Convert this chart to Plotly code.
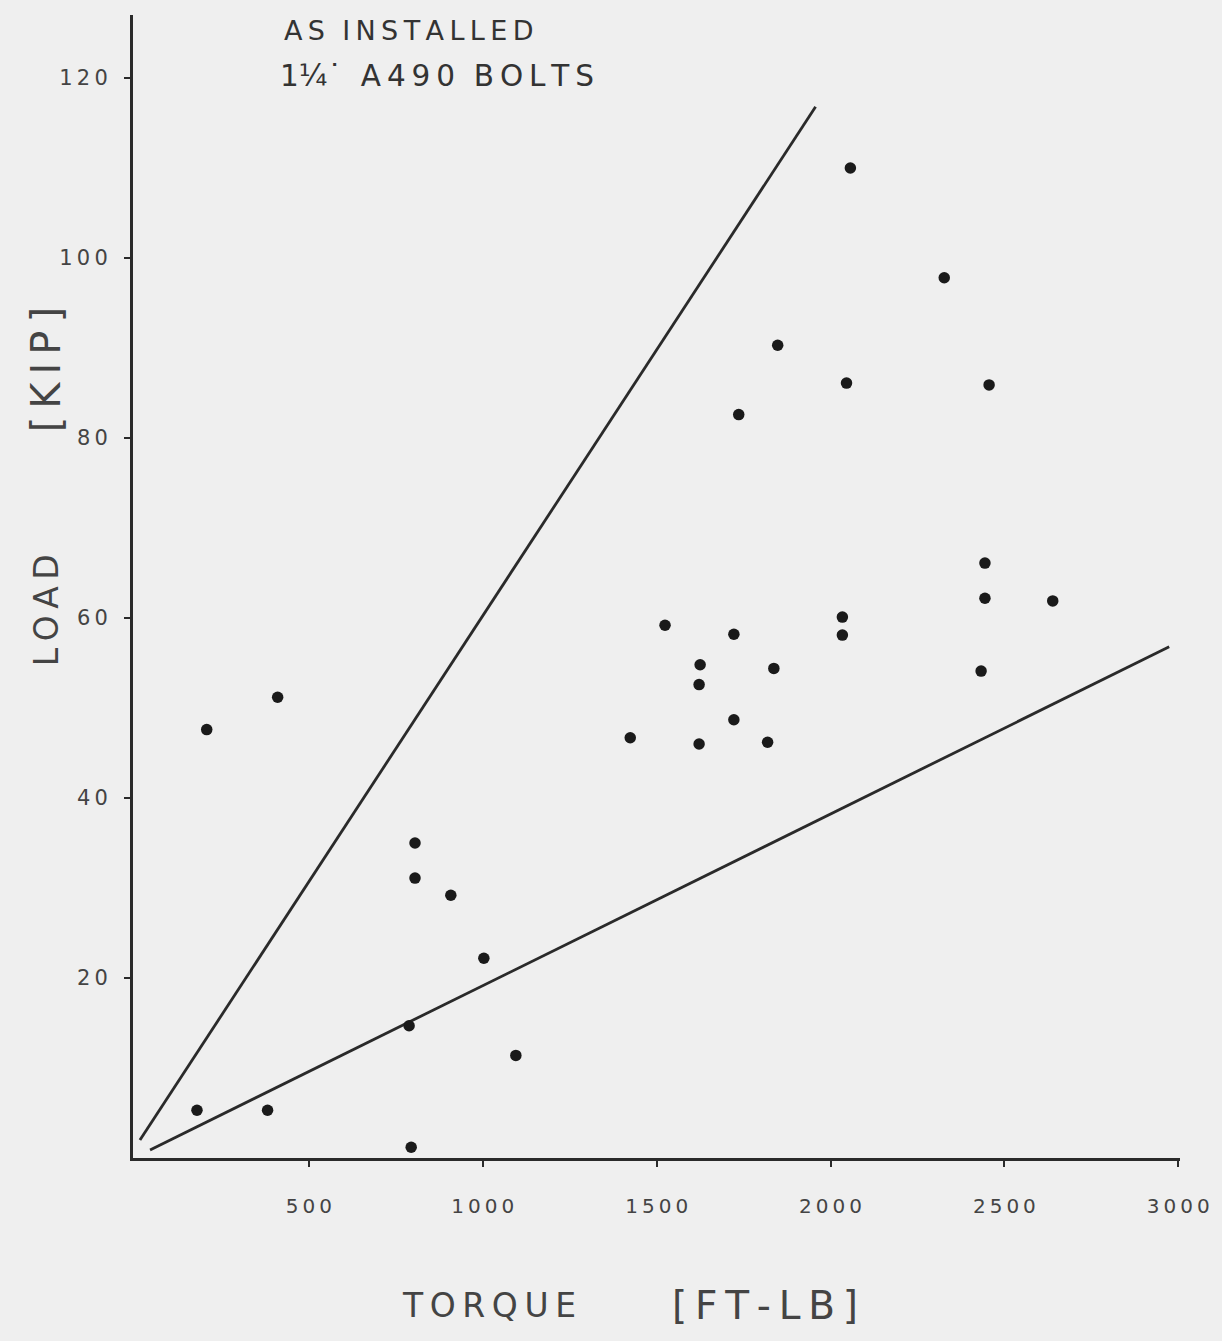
import plotly.graph_objects as go

# Data
torque = [178, 206, 381, 410, 794, 788, 805, 805, 908, 1003, 1095,
          1424, 1524, 1625, 1622, 1622, 1722, 1722, 1736, 1837, 1819, 1848,
          2034, 2034, 2046, 2057, 2327, 2444, 2444, 2433, 2456, 2639]
load = [5.3, 47.6, 5.3, 51.2, 1.2, 14.7, 35.0, 31.1, 29.2, 22.2, 11.4,
        46.7, 59.2, 54.8, 52.6, 46.0, 58.2, 48.7, 82.6, 54.4, 46.2, 90.3,
        60.1, 58.1, 86.1, 110.0, 97.8, 66.1, 62.2, 54.1, 85.9, 61.9]

upper_x = [14, 1957]
upper_y = [2.0, 116.8]
lower_x = [43, 2974]
lower_y = [0.9, 56.8]

x_ticks = [500, 1000, 1500, 2000, 2500, 3000]
y_ticks = [20, 40, 60, 80, 100, 120]

ink = "#2a2a2a"
paper = "#efefef"
font_family = "DejaVu Sans"
TS = "\u2009"  # thin space for hand-lettered spacing


def spaced(s):
    return TS.join(s)


fig = go.Figure()
fig.add_trace(go.Scatter(x=upper_x, y=upper_y, mode="lines",
                         line=dict(color=ink, width=2.8), showlegend=False))
fig.add_trace(go.Scatter(x=lower_x, y=lower_y, mode="lines",
                         line=dict(color=ink, width=2.8), showlegend=False))
fig.add_trace(go.Scatter(x=torque, y=load, mode="markers",
                         marker=dict(color="#1a1a1a", size=11.5), showlegend=False))

L = 133
fig.update_layout(
    width=1222, height=1341,
    margin=dict(l=L, r=38, t=15, b=183),
    paper_bgcolor=paper, plot_bgcolor=paper,
    font=dict(family=font_family, color="#444"),
    xaxis=dict(range=[-6, 3005], tickvals=x_ticks,
               ticktext=[spaced(str(v)) for v in x_ticks],
               showgrid=False, zeroline=False, showline=True, linecolor=ink, linewidth=3,
               ticks="outside", ticklen=6, tickwidth=2, tickcolor=ink,
               tickfont=dict(size=20, color="#444"), ticklabelstandoff=22),
    yaxis=dict(range=[0, 127], tickvals=y_ticks,
               ticktext=[spaced(str(v)) for v in y_ticks],
               showgrid=False, zeroline=False, showline=True, linecolor=ink, linewidth=3,
               ticks="outside", ticklen=6, tickwidth=2, tickcolor=ink,
               tickfont=dict(size=21, color="#444"), ticklabelstandoff=12),
)

PW = 1222 - L - 38


def px_x(p):
    return (p - L) / PW


def px_y(p):
    return (1158 - p) / 1143


annotations = [
    dict(text=spaced("AS") + "  " + spaced("INSTALLED"), x=px_x(283), y=px_y(30),
         xanchor="left", yanchor="middle", font=dict(size=27, color="#333")),
    dict(text="1¼\u02d9  " + spaced("A490") + "  " + spaced("BOLTS"), x=px_x(279), y=px_y(76),
         xanchor="left", yanchor="middle", font=dict(size=29.5, color="#333")),
    dict(text=spaced("TORQUE"), x=px_x(490), y=px_y(1305), xanchor="center", yanchor="middle",
         font=dict(size=33, color="#444")),
    dict(text=spaced("[FT-LB]"), x=px_x(767), y=px_y(1305), xanchor="center", yanchor="middle",
         font=dict(size=39, color="#444")),
    dict(text=spaced("LOAD"), x=px_x(46), y=px_y(610), xanchor="center", yanchor="middle",
         textangle=-90, font=dict(size=33, color="#444")),
    dict(text=spaced("[KIP]"), x=px_x(46), y=px_y(370), xanchor="center", yanchor="middle",
         textangle=-90, font=dict(size=40, color="#444")),
]
for a in annotations:
    a.update(xref="paper", yref="paper", showarrow=False)
    fig.add_annotation(**a)

fig.write_html(
    "out.html",
    config={"displayModeBar": False},
    post_script="document.body.style.margin='0';"
                "document.body.style.background='#efefef';",
)
